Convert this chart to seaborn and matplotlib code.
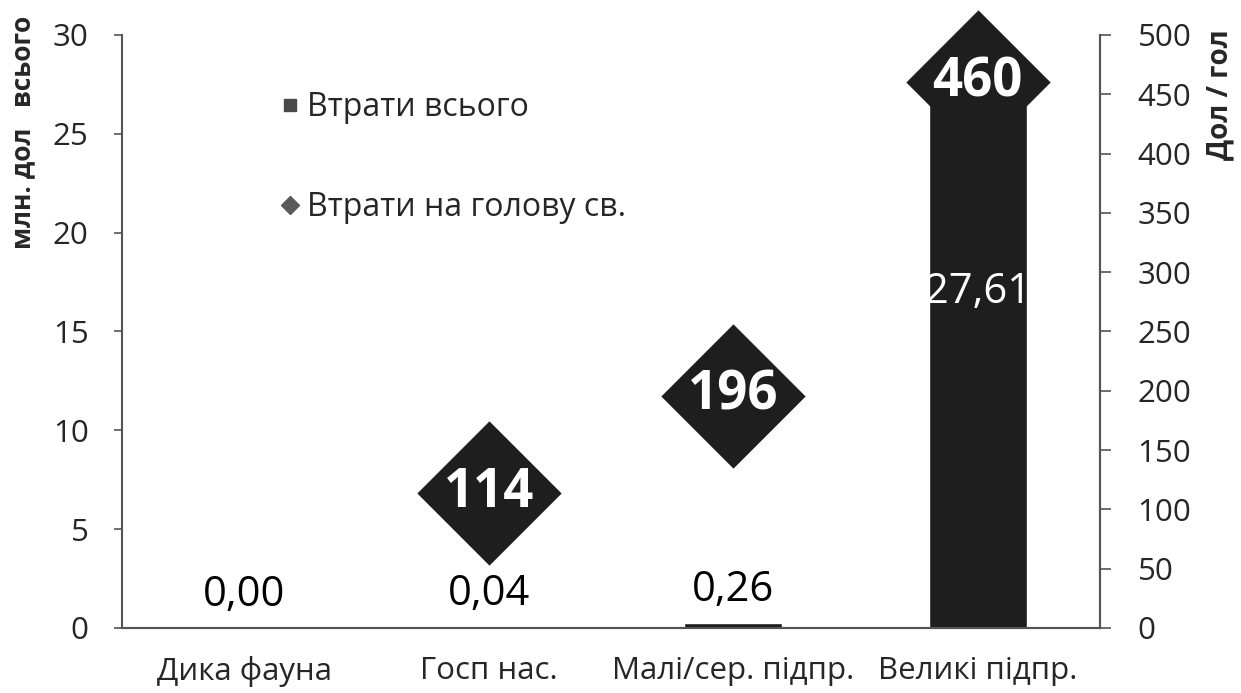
import numpy as np
import seaborn as sns
import matplotlib.pyplot as plt
from matplotlib.lines import Line2D

# data
categories = ['Дика фауна', 'Госп нас.', 'Малі/сер. підпр.', 'Великі підпр.']
total_losses = [0.00, 0.04, 0.26, 27.61]        # млн. дол, left axis
per_head = [np.nan, 114, 196, 460]               # дол / гол, right axis
total_labels = ['0,00', '0,04', '0,26', '27,61']
head_labels = ['', '114', '196', '460']

sns.set_style("white")
plt.rcParams['font.family'] = ['Open Sans', 'DejaVu Sans']

dark = '#1e1e1e'
fig = plt.figure(figsize=(12.41, 6.93), dpi=100)
ax = fig.add_axes([0.0983, 0.0938, 0.7881, 0.8557])
pos = np.arange(len(categories))

sns.barplot(x=pos, y=total_losses, color=dark, saturation=1,
            width=0.4, ax=ax, native_scale=True, zorder=3)
ax.set_xlim(-0.5, len(categories) - 0.5)
ax.set_ylim(0, 30)
ax.set_yticks(range(0, 31, 5))
ax.set_xticks(pos)
ax.set_xticklabels(categories, fontsize=22.5)
ax.set_xticks(np.arange(-0.5, len(categories), 1), minor=True)
ax.tick_params(axis='x', which='major', length=0, pad=20)
ax.tick_params(axis='x', which='minor', length=8, width=1.2, color='#555555', direction='out')
ax.tick_params(axis='y', labelsize=22.5, length=6, width=1.2, color='#555555', direction='out', pad=18)
ax.set_ylabel('млн. дол   всього', fontsize=19, fontweight='bold')
ax.yaxis.set_label_coords(-0.088, 0.836)

# bar value labels
for i, (v, lab) in enumerate(zip(total_losses, total_labels)):
    if v > 5:
        ax.text(i, 17, lab, ha='center', va='center', fontsize=30, color='white', zorder=5)
    else:
        ax.text(i, v + 0.6, lab, ha='center', va='bottom', fontsize=30, color='black')

ax2 = ax.twinx()
sns.scatterplot(x=pos, y=per_head, marker='D', s=5400, color=dark,
                linewidth=0, ax=ax2, legend=False, zorder=1, clip_on=False)
ax2.set_ylim(0, 500)
ax2.set_yticks(range(0, 501, 50))
ax2.tick_params(axis='y', labelsize=22.5, length=8, width=1.2, color='#555555', direction='out', pad=19)
ax2.set_ylabel('Дол / гол', fontsize=20, fontweight='bold', rotation=90)
ax2.yaxis.set_label_coords(1.108, 0.90)
for i, (v, lab) in enumerate(zip(per_head, head_labels)):
    if lab:
        ax2.text(i, v, lab, ha='center', va='center', fontsize=38,
                 fontweight='bold', color='white')

for a in (ax, ax2):
    a.spines['top'].set_visible(False)
    for s in ('left', 'bottom', 'right'):
        a.spines[s].set_color('#555555')
        a.spines[s].set_linewidth(1.5)
ax2.spines['left'].set_visible(False)

handles = [
    Line2D([], [], marker='s', linestyle='none', color='#4a4a4a', markersize=9),
    Line2D([], [], marker='D', linestyle='none', color='#5a5a5a', markersize=9),
]
fig.legend(handles, ['Втрати всього', 'Втрати на голову св.'],
           loc='upper left', bbox_to_anchor=(0.2, 0.91), frameon=False,
           fontsize=23, labelspacing=2.1, handletextpad=0.15, handlelength=0.8)

fig.savefig('out.png', dpi=100)
